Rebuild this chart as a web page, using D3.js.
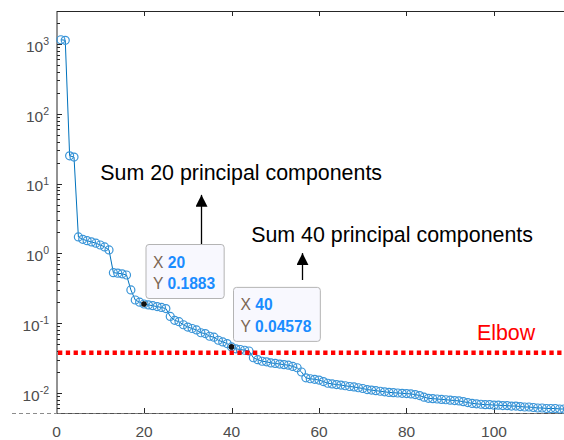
<!DOCTYPE html>
<html>
<head>
<meta charset="utf-8">
<script src="https://cdn.jsdelivr.net/npm/d3@7"></script>
<style>
  body { margin: 0; background: #fff; }
  svg { display: block; font-family: "Liberation Sans", Arial, sans-serif; }
</style>
</head>
<body>
<div id="chart"></div>
<script>
// eigenvalues, component 1..117
const components = d3.range(1, 118);
const eigenvalues = [
  1150, 1130, 25, 24, 1.72, 1.59, 1.52, 1.46, 1.4, 1.32,
  1.24, 1.12, 0.53, 0.52, 0.51, 0.49, 0.3, 0.215, 0.2, 0.1883,
  0.183, 0.178, 0.173, 0.168, 0.162, 0.125, 0.11, 0.105, 0.095, 0.088,
  0.084, 0.08, 0.073, 0.071, 0.065, 0.063, 0.057, 0.054, 0.051, 0.04578,
  0.043, 0.042, 0.041, 0.040, 0.032, 0.030, 0.0285, 0.028, 0.027, 0.0265,
  0.026, 0.0255, 0.025, 0.024, 0.023, 0.020, 0.0165, 0.016, 0.0157, 0.0153,
  0.0146, 0.0138, 0.0135, 0.0132, 0.013, 0.0127, 0.0124, 0.0122, 0.0119, 0.0116,
  0.0112, 0.011, 0.0108, 0.0106, 0.0104, 0.0102, 0.0101, 0.01, 0.0099, 0.0098,
  0.0097, 0.0095, 0.0092, 0.0087, 0.0084, 0.0083, 0.0082, 0.0081, 0.008, 0.0079,
  0.0078, 0.0077, 0.0075, 0.0073, 0.0071, 0.007, 0.0069, 0.0068, 0.0068, 0.0067,
  0.0067, 0.0066, 0.0066, 0.0065, 0.0065, 0.0064, 0.0063, 0.0063, 0.0062, 0.0061,
  0.0061, 0.006, 0.006, 0.006, 0.0059, 0.0059, 0.0058
];
const xTicks = [0, 20, 40, 60, 80, 100];
const yDecades = [-2, -1, 0, 1, 2, 3];
const elbow = 0.0377;
const tips = [{x: 20, y: 0.1883, label: '0.1883'}, {x: 40, y: 0.04578, label: '0.04578'}];
const notes = [
  {text: 'Sum 20 principal components', x: 10, y: 11.3, ax: 33, y0: 1.36, y1: 6.9},
  {text: 'Sum 40 principal components', x: 44.5, y: 1.46, ax: 56, y0: 0.416, y1: 1.01}
];

const width = 564, height = 440;
const plotLeft = 57, plotTop = 11, plotBottom = 413;

const svg = d3.select('#chart').append('svg')
  .attr('width', width)
  .attr('height', height);

const x = d3.scaleLinear().domain([0, 120]).range([plotLeft - 0.5, plotLeft - 0.5 + 4.375 * 120]);
const y = d3.scaleLog().domain([Math.pow(10, -2 - 20 / 69.8), Math.pow(10, 3 + 33 / 69.8)]).range([plotBottom, plotTop]);

const blue = '#0072BD';
const axisColor = '#262626';
const labelColor = '#4d4d4d';

// dashed baseline
svg.append('line')
  .attr('x1', 12).attr('x2', width)
  .attr('y1', plotBottom + 0.5).attr('y2', plotBottom + 0.5)
  .attr('stroke', '#8c8c8c')
  .attr('stroke-dasharray', '4,3');

// axes box lines
svg.append('line').attr('x1', plotLeft).attr('x2', plotLeft).attr('y1', plotTop).attr('y2', plotBottom)
  .attr('stroke', axisColor);
svg.append('line').attr('x1', plotLeft).attr('x2', width).attr('y1', plotTop + 0.5).attr('y2', plotTop + 0.5)
  .attr('stroke', axisColor);
svg.append('line').attr('x1', plotLeft).attr('x2', width).attr('y1', plotBottom + 0.5).attr('y2', plotBottom + 0.5)
  .attr('stroke', axisColor).attr('stroke-opacity', 0.6);

// y ticks (inward), major and minor
const yMinor = [];
yDecades.concat([-3]).forEach(d => {
  for (let m = 2; m <= 9; m++) {
    const v = m * Math.pow(10, d);
    if (v > y.domain()[0] && v < y.domain()[1]) yMinor.push(v);
  }
});
svg.append('g').selectAll('line.minor')
  .data(yMinor).enter().append('line')
  .attr('x1', plotLeft).attr('x2', plotLeft + 3)
  .attr('y1', d => Math.round(y(d)) + 0.5).attr('y2', d => Math.round(y(d)) + 0.5)
  .attr('stroke', axisColor);
svg.append('g').selectAll('line.major')
  .data(yDecades).enter().append('line')
  .attr('x1', plotLeft).attr('x2', plotLeft + 5)
  .attr('y1', d => Math.round(y(Math.pow(10, d))) + 0.5).attr('y2', d => Math.round(y(Math.pow(10, d))) + 0.5)
  .attr('stroke', axisColor);

const yLab = svg.append('g').selectAll('text')
  .data(yDecades).enter().append('text')
  .attr('x', plotLeft - 8)
  .attr('y', d => y(Math.pow(10, d)) + 7.7)
  .attr('text-anchor', 'end')
  .attr('fill', labelColor)
  .attr('font-size', 15.5);
yLab.append('tspan').text('10');
yLab.append('tspan').attr('dy', -6.7).attr('font-size', 10.5).text(d => d);

// x ticks top and bottom (inward)
const xg = svg.append('g');
xTicks.forEach(t => {
  const px = Math.round(x(t)) + 0.5;
  if (t > 0) {
    xg.append('line').attr('x1', px).attr('x2', px).attr('y1', plotTop).attr('y2', plotTop + 5).attr('stroke', axisColor);
    xg.append('line').attr('x1', px).attr('x2', px).attr('y1', plotBottom).attr('y2', plotBottom - 5).attr('stroke', axisColor);
  }
  xg.append('text')
    .attr('x', x(t))
    .attr('y', 437)
    .attr('text-anchor', 'middle')
    .attr('fill', labelColor)
    .attr('font-size', 15.5)
    .text(t);
});

// data line and markers
const pts = components.map((c, i) => ({c: c, v: eigenvalues[i]}));
svg.append('path')
  .datum(pts)
  .attr('fill', 'none')
  .attr('stroke', blue)
  .attr('stroke-width', 1)
  .attr('d', d3.line().x(d => x(d.c)).y(d => y(d.v)));

svg.append('g').selectAll('circle')
  .data(pts).enter().append('circle')
  .attr('cx', d => x(d.c))
  .attr('cy', d => y(d.v))
  .attr('r', 4)
  .attr('fill', 'none')
  .attr('stroke', '#3a95d8')
  .attr('stroke-width', 1.2);

// elbow line
svg.append('line')
  .attr('x1', plotLeft + 1).attr('x2', width)
  .attr('y1', y(elbow)).attr('y2', y(elbow))
  .attr('stroke', '#ff0000')
  .attr('stroke-width', 4.3)
  .attr('stroke-dasharray', '4.3,3.5');
svg.append('text')
  .attr('x', x(96.1)).attr('y', y(0.0574))
  .attr('fill', '#ff0000')
  .attr('font-size', 21.4)
  .text('Elbow');

// annotations with arrows
svg.append('defs').append('marker')
  .attr('id', 'head')
  .attr('viewBox', '0 0 12 12')
  .attr('refX', 12).attr('refY', 6)
  .attr('markerWidth', 12).attr('markerHeight', 12)
  .attr('markerUnits', 'userSpaceOnUse')
  .attr('orient', 'auto')
  .append('path').attr('d', 'M0,0L12,6L0,12Z').attr('fill', '#000');

notes.forEach(n => {
  svg.append('text')
    .attr('x', x(n.x)).attr('y', y(n.y))
    .attr('fill', '#000')
    .attr('font-size', 21.4)
    .text(n.text);
  svg.append('line')
    .attr('x1', Math.round(x(n.ax)) + 0.5).attr('x2', Math.round(x(n.ax)) + 0.5)
    .attr('y1', y(n.y0)).attr('y2', y(n.y1))
    .attr('stroke', '#000').attr('stroke-width', 1.3)
    .attr('marker-end', 'url(#head)');
});

// data tips
tips.forEach(t => {
  const px = x(t.x), py = y(t.y);
  const g = svg.append('g').attr('transform', `translate(${px + 2},${py - 59.5})`);
  const box = g.append('rect')
    .attr('height', 54)
    .attr('rx', 3)
    .attr('fill', '#f8f8fe')
    .attr('stroke', '#b4b4b4');
  const rows = [['X', t.x], ['Y', t.label]];
  let maxW = 0;
  rows.forEach((r, i) => {
    const tx = g.append('text')
      .attr('x', 7).attr('y', 23 + i * 21.5)
      .attr('font-size', 15.6);
    tx.append('tspan').attr('fill', '#7b6552').text(r[0] + ' ');
    tx.append('tspan').attr('fill', '#1a8cff').attr('font-weight', 'bold').text(r[1]);
    maxW = Math.max(maxW, tx.node().getComputedTextLength());
  });
  box.attr('width', maxW + 16);
  svg.append('circle').attr('cx', px).attr('cy', py).attr('r', 2.8).attr('fill', '#111');
});
</script>
</body>
</html>
